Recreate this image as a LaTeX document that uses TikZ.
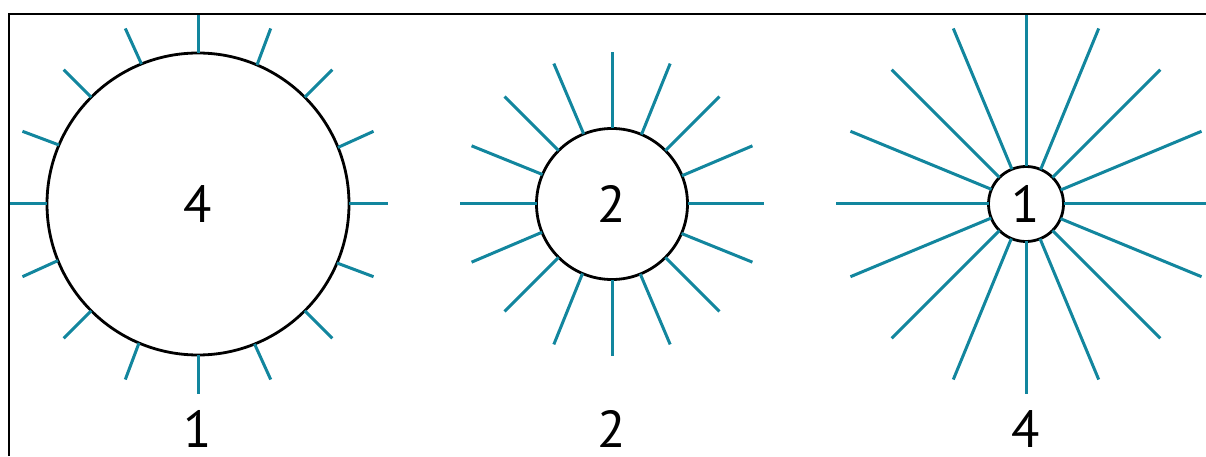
\documentclass[tikz,border=0pt]{standalone}
\usepackage{fontspec}
\setmainfont{PT Sans}
\usetikzlibrary{positioning}
\definecolor{raycol}{RGB}{18,134,158}

\begin{document}
\begin{tikzpicture}[x=0.5pt, y=0.5pt,
    ball/.style={draw, circle, line width=1.4pt, fill=white, inner sep=0pt, outer sep=0pt, font=\fontsize{26}{30}\selectfont},
    ray/.style={draw=raycol, line width=1.5pt},
    lbl/.style={font=\fontsize{26}{30}\selectfont, anchor=base, inner sep=0pt},
    frame/.style={draw, line width=1pt}]
    \useasboundingbox (0,0) rectangle (1206,456);

    \node [ball, minimum size=151pt] (big) at (198,252) {4};
    \node [ball, minimum size=75.5pt] (mid) at (612,252) {2};
    \node [ball, minimum size=37.5pt] (small) at (1026,252) {1};

    \foreach \a in {0,22.5,...,337.5} {
      \draw [ray] (big.\a) -- ([shift={(\a:190)}]big.center);
      \draw [ray] (mid.\a) -- ([shift={(\a:152)}]mid.center);
      \draw [ray] (small.\a) -- ([shift={(\a:190)}]small.center);
    }

    \node [lbl] (lbig) at (198,9) {1};
    \node [lbl] (lmid) at (612,9) {2};
    \node [lbl] (lsmall) at (1026,9) {4};

    \coordinate (corner) at (9,442);
    \draw [frame] (9,0) -- (corner) -- (1206,442);
\end{tikzpicture}
\end{document}
